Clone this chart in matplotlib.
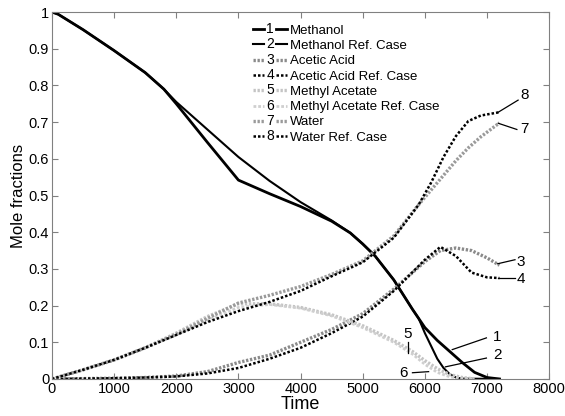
import numpy as np
import matplotlib
matplotlib.use('Agg')
import matplotlib.pyplot as plt
from matplotlib.legend_handler import HandlerBase
from matplotlib.lines import Line2D
from matplotlib.text import Text

plt.rcParams['font.family'] = ['Liberation Sans', 'DejaVu Sans']

# methanol (kinked one) and its reference case
t_meoh = [0, 100, 500, 1000, 1500, 1700, 1800, 2000, 2500, 3000, 3500, 4000, 4500, 4800,
          5000, 5200, 5500, 5800, 5900, 6000, 6200, 6400, 6600, 6800, 7000, 7200]
meoh = [1.0, 0.994, 0.952, 0.895, 0.835, 0.805, 0.79, 0.75, 0.645, 0.542, 0.505, 0.47, 0.43,
        0.398, 0.368, 0.335, 0.27, 0.19, 0.165, 0.14, 0.105, 0.075, 0.045, 0.018, 0.004, 0.0]
t_meoh_ref = [0, 100, 500, 1000, 1500, 1700, 1800, 2000, 2500, 3000, 3500, 4000, 4500, 4800,
              5000, 5200, 5500, 5800, 5900, 6000, 6100, 6200, 6300, 6400, 6500, 6600, 7200]
meoh_ref = [1.0, 0.994, 0.952, 0.895, 0.835, 0.805, 0.79, 0.755, 0.68, 0.605, 0.54, 0.482,
            0.432, 0.398, 0.368, 0.335, 0.27, 0.19, 0.165, 0.125, 0.09, 0.055, 0.03, 0.013,
            0.004, 0.001, 0.0]

t_acid = [0, 500, 1000, 1500, 2000, 2500, 3000, 3500, 4000, 4500, 5000, 5500, 6000,
          6250, 6500, 6750, 7000, 7200]
acid = [0, 0.001, 0.002, 0.004, 0.008, 0.02, 0.045, 0.065, 0.1, 0.135, 0.178, 0.245, 0.32,
        0.35, 0.357, 0.35, 0.33, 0.31]
acid_ref = [0, 0.001, 0.002, 0.004, 0.007, 0.015, 0.03, 0.055, 0.085, 0.125, 0.17, 0.24, 0.325,
            0.36, 0.335, 0.29, 0.277, 0.275]

t_meac = [0, 500, 1000, 1500, 2000, 2500, 3000, 3500, 4000, 4500, 5000, 5500, 5800,
          6000, 6200, 6400, 6600, 6800]
meac = [0, 0.025, 0.052, 0.085, 0.125, 0.17, 0.205, 0.205, 0.195, 0.175, 0.145, 0.105, 0.075,
        0.05, 0.028, 0.012, 0.004, 0.0]
meac_ref = [0, 0.025, 0.052, 0.085, 0.12, 0.16, 0.195, 0.203, 0.193, 0.172, 0.14, 0.1, 0.068,
            0.04, 0.018, 0.006, 0.001, 0.0]

t_water = [0, 500, 1000, 1500, 2000, 2500, 3000, 3500, 4000, 4500, 5000, 5500, 5900,
           6100, 6300, 6500, 6700, 6900, 7200]
water = [0, 0.025, 0.052, 0.085, 0.122, 0.165, 0.207, 0.228, 0.252, 0.285, 0.322, 0.39, 0.475,
         0.515, 0.555, 0.595, 0.63, 0.66, 0.698]
water_ref = [0, 0.025, 0.052, 0.085, 0.12, 0.155, 0.185, 0.21, 0.24, 0.28, 0.318, 0.385, 0.475,
             0.535, 0.605, 0.662, 0.703, 0.718, 0.727]

names = ['Methanol', 'Methanol Ref. Case', 'Acetic Acid', 'Acetic Acid Ref. Case',
         'Methyl Acetate', 'Methyl Acetate Ref. Case', 'Water', 'Water Ref. Case']

# label number: point on curve, end of leader, text position
callouts = {
    '1': ((6440, 0.08), (6990, 0.112), (7160, 0.115)),
    '2': ((6330, 0.033), (6990, 0.057), (7170, 0.066)),
    '3': ((7170, 0.314), (7450, 0.325), (7540, 0.32)),
    '4': ((7170, 0.275), (7450, 0.275), (7540, 0.272)),
    '5': ((5730, 0.07), (5730, 0.1), (5720, 0.123)),
    '6': ((6060, 0.02), (5800, 0.017), (5650, 0.016)),
    '7': ((7180, 0.697), (7480, 0.68), (7600, 0.68)),
    '8': ((7180, 0.727), (7500, 0.76), (7600, 0.774)),
}


class NumHandler(HandlerBase):
    def __init__(self, num):
        super().__init__()
        self.num = num

    def create_artists(self, legend, orig_handle, xdescent, ydescent, width, height,
                       fontsize, trans):
        y = height / 2 - ydescent
        x0 = -xdescent
        a = Line2D([x0, x0 + width * 0.33], [y, y])
        b = Line2D([x0 + width * 0.67, x0 + width], [y, y])
        for ln in (a, b):
            ln.update_from(orig_handle)
            ln.set_transform(trans)
        txt = Text(x0 + width / 2, y, self.num, ha='center', va='center',
                   fontsize=fontsize + 0.5, family=['Liberation Sans', 'DejaVu Sans'])
        txt.set_transform(trans)
        return [a, txt, b]


fig = plt.figure(figsize=(5.65, 4.16), dpi=100)
ax = fig.add_axes([0.092, 0.089, 0.88, 0.882])

h = []
h += ax.plot(t_meoh, meoh, color='black', lw=2.0)
h += ax.plot(t_meoh_ref, meoh_ref, color='black', lw=1.5)
h += ax.plot(t_acid, acid, color='#8a8a8a', lw=2.4, ls=(0, (0.7, 0.5)))
h += ax.plot(t_acid, acid_ref, color='black', lw=1.8, ls=(0, (1, 0.8)))
h += ax.plot(t_meac, meac, color='#c4c4c4', lw=2.4, ls=(0, (0.7, 0.5)))
h += ax.plot(t_meac, meac_ref, color='#cfcfcf', lw=2.0, ls=(0, (1, 0.7)))
h += ax.plot(t_water, water, color='#9a9a9a', lw=2.4, ls=(0, (0.7, 0.5)))
h += ax.plot(t_water, water_ref, color='black', lw=1.8, ls=(0, (1, 0.8)))

for num, (p, q, tp) in callouts.items():
    ax.plot([p[0], q[0]], [p[1], q[1]], color='black', lw=0.9)
    ax.text(tp[0], tp[1], num, fontsize=11, ha='center', va='center')

ax.legend(h, names, handler_map={hh: NumHandler(str(i + 1)) for i, hh in enumerate(h)},
          loc='upper left', bbox_to_anchor=(0.404, 0.966), frameon=False,
          fontsize=9.5, handlelength=2.6, handletextpad=0.2, labelspacing=0.23,
          borderpad=0, borderaxespad=0)

ax.set_xlim(0, 8000)
ax.set_ylim(0, 1)
ax.set_xticks(np.arange(0, 8001, 1000))
ax.set_yticks(np.arange(0, 1.01, 0.1))
ax.set_yticklabels(['0', '0.1', '0.2', '0.3', '0.4', '0.5', '0.6', '0.7', '0.8', '0.9', '1'])
ax.tick_params(direction='in', top=True, right=True, length=4, color='#808080',
               labelsize=10.5, pad=2)
for s in ax.spines.values():
    s.set_color('#808080')
    s.set_linewidth(0.8)
ax.set_xlabel('Time', fontsize=13, labelpad=0)
ax.set_ylabel('Mole fractions', fontsize=12, labelpad=2)

fig.savefig('out.png', dpi=100)
